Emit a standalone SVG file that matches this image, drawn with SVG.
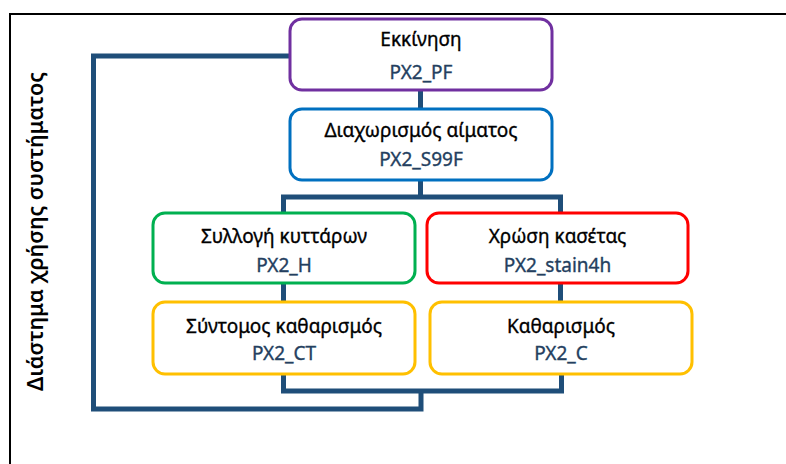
<svg xmlns="http://www.w3.org/2000/svg" width="786" height="464" viewBox="0 0 786 464">
  <style>
    .box { fill: #ffffff; stroke-width: 3; }
    .title { font-family: "Noto Sans", "Open Sans", sans-serif; font-size: 19px; fill: #000000; stroke: #000000; stroke-width: 0.35; text-anchor: middle; }
    .code { font-family: "Noto Sans", "Open Sans", sans-serif; font-size: 19px; fill: #243F60; stroke: #243F60; stroke-width: 0.35; text-anchor: middle; }
    .wire { fill: none; stroke: #1F4E79; stroke-width: 5; stroke-linejoin: miter; }
    .frame { fill: none; stroke: #000000; stroke-width: 2; }
  </style>

  <rect width="786" height="464" fill="#ffffff"/>

  <!-- outer frame (top and left edges) -->
  <path class="frame" d="M10,464 V14 H786"/>

  <!-- side caption -->
  <text transform="translate(43,231.5) rotate(-90)" font-family="'Noto Sans', 'Open Sans', sans-serif" font-size="21.5" font-weight="600" fill="#000000" text-anchor="middle">Διάστημα χρήσης συστήματος</text>

  <!-- connectors -->
  <g id="connectors">
    <path class="wire" d="M290,56 H93.5 V409 H421 V391"/>
    <path class="wire" d="M283.5,374 V391 H561.5 V374"/>
    <path class="wire" d="M420.5,90 V109"/>
    <path class="wire" d="M420.5,180 V197"/>
    <path class="wire" d="M283.5,213 V197 H560.5 V213"/>
    <path class="wire" d="M283.5,283 V302"/>
    <path class="wire" d="M560.5,283 V302"/>
  </g>

  <g id="start">
    <rect class="box" x="290" y="19" width="262" height="71" rx="12" stroke="#7030A0"/>
    <text class="title" x="421" y="46">Εκκίνηση</text>
    <text class="code" x="421" y="79">PX2_PF</text>
  </g>

  <g id="separation">
    <rect class="box" x="290" y="109" width="262" height="71" rx="12" stroke="#0070C0"/>
    <text class="title" x="421" y="137">Διαχωρισμός αίματος</text>
    <text class="code" x="421" y="166">PX2_S99F</text>
  </g>

  <g id="harvest">
    <rect class="box" x="153" y="213" width="262" height="70" rx="12" stroke="#00B050"/>
    <text class="title" x="284" y="243">Συλλογή κυττάρων</text>
    <text class="code" x="284" y="272">PX2_H</text>
  </g>

  <g id="stain">
    <rect class="box" x="427" y="213" width="261" height="70" rx="12" stroke="#FF0000"/>
    <text class="title" x="557.5" y="243">Χρώση κασέτας</text>
    <text class="code" x="557.5" y="272">PX2_stain4h</text>
  </g>

  <g id="short-clean">
    <rect class="box" x="153" y="302" width="262" height="72" rx="12" stroke="#FFC000"/>
    <text class="title" x="284" y="333">Σύντομος καθαρισμός</text>
    <text class="code" x="284" y="360">PX2_CT</text>
  </g>

  <g id="clean">
    <rect class="box" x="430" y="302" width="262" height="72" rx="12" stroke="#FFC000"/>
    <text class="title" x="561" y="333">Καθαρισμός</text>
    <text class="code" x="561" y="360">PX2_C</text>
  </g>
</svg>
